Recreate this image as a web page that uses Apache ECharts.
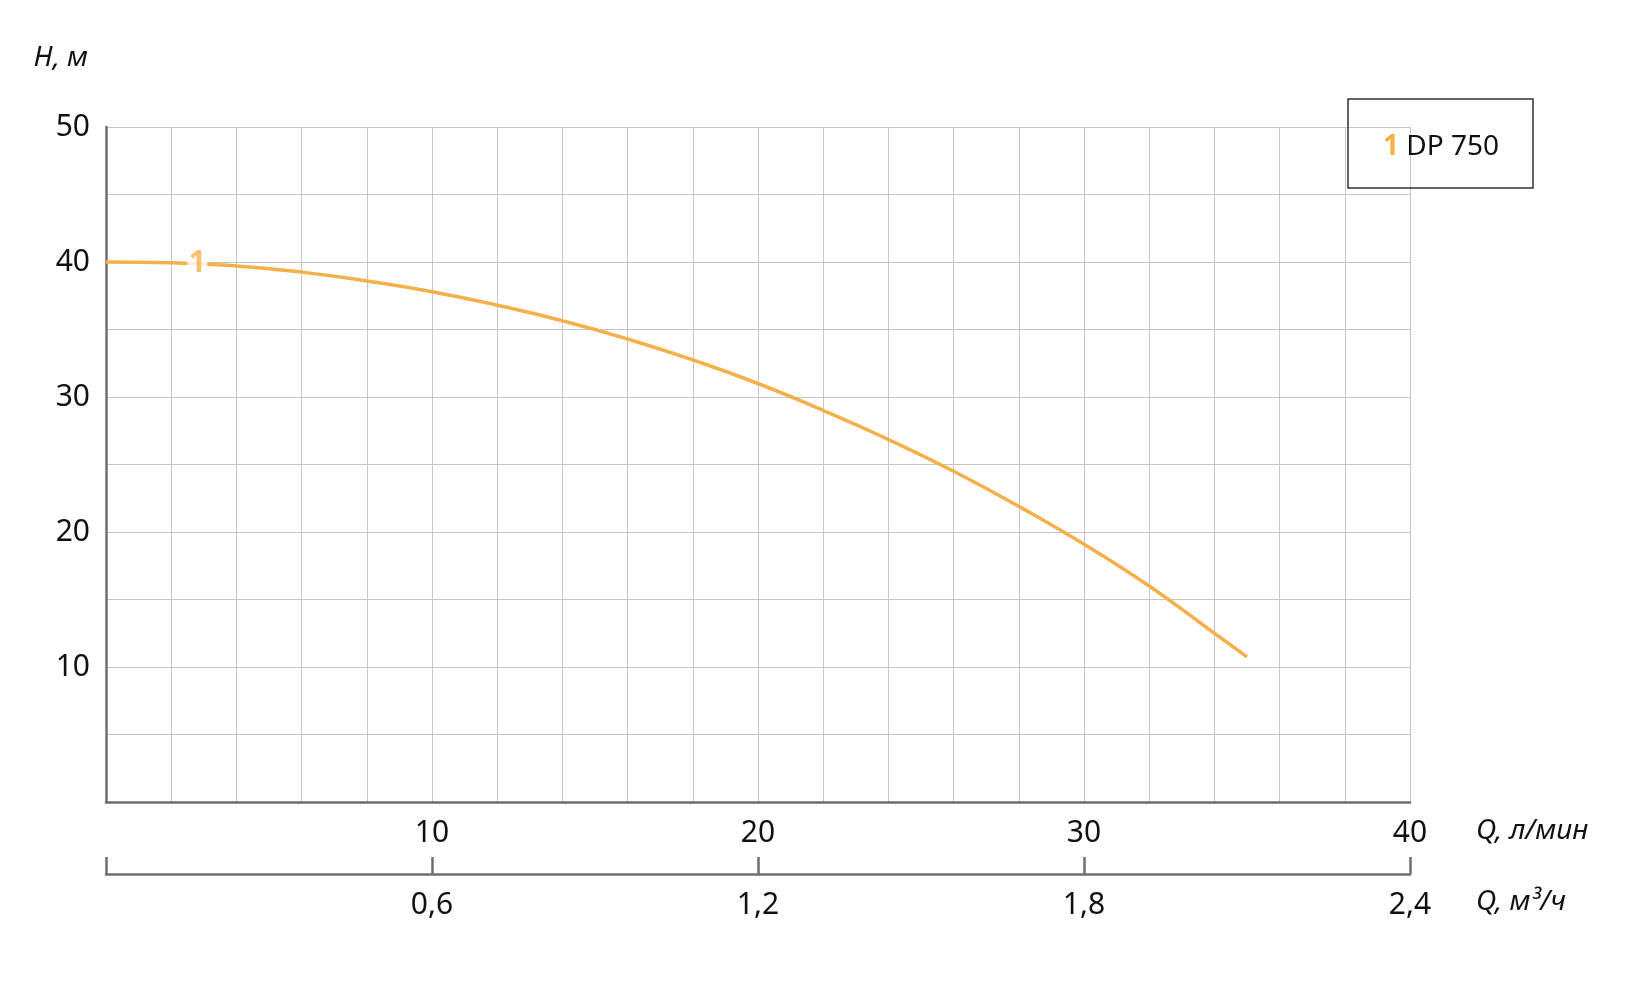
<!DOCTYPE html>
<html>
<head>
<meta charset="utf-8">
<script src="https://cdn.jsdelivr.net/npm/echarts@6/dist/echarts.min.js"></script>
<style>
html,body{margin:0;padding:0;background:#fff;}
#chart{width:1640px;height:998px;}
</style>
</head>
<body>
<div id="chart"></div>
<script>
// Flow (l/min) and head (m)
const flowLpm = [0, 2, 4, 6, 8, 10, 12, 14, 16, 18, 20, 22, 24, 26, 28, 30, 32, 34, 35];
const headM   = [40.0, 39.95, 39.7, 39.25, 38.6, 37.8, 36.8, 35.65, 34.3, 32.75, 31.0, 29.0, 26.85, 24.5, 21.9, 19.1, 16.0, 12.5, 10.75];
const seriesName = 'DP 750';
const curveNumber = '1';
const curveLabelPos = [2.8, 39.9];
const yTickLabels = [10, 20, 30, 40, 50];
const xTickLabels = [10, 20, 30, 40];
const x2TickLabels = [0.6, 1.2, 1.8, 2.4];
const yAxisTitle = 'H, м';
const xAxisTitle = 'Q, л/мин';
const x2AxisTitle = 'Q, м³/ч';

const FONT = 'Noto Sans';
const ORANGE = '#f4b04a';
const chart = echarts.init(document.getElementById('chart'), null, {renderer: 'canvas'});

const option = {
  backgroundColor: '#fff',
  animation: false,
  textStyle: {fontFamily: FONT},
  grid: {left: 106, right: 230, top: 127, bottom: 196, containLabel: false},
  legend: {
    data: [seriesName],
    left: 1348, top: 99,
    itemWidth: 0, itemHeight: 0, itemGap: 0,
    icon: 'none',
    borderColor: '#333', borderWidth: 1.5,
    padding: [34, 34, 27, 30],
    formatter: function (n) { return '{n|' + curveNumber + '} ' + n; },
    textStyle: {
      fontFamily: FONT, fontSize: 28, color: '#111',
      rich: {n: {fontFamily: FONT, fontSize: 28, color: ORANGE, fontWeight: 'bold'}}
    },
    selectedMode: false
  },
  xAxis: [
    {
      type: 'value', min: 0, max: 40, interval: 2,
      position: 'bottom',
      axisLine: {show: true, onZero: false, lineStyle: {color: '#6e6e6e', width: 2.5}},
      axisTick: {show: false},
      splitLine: {show: true, lineStyle: {color: '#c6c6c6', width: 1}},
      axisLabel: {
        margin: 16, fontSize: 30, color: '#111', fontFamily: FONT,
        formatter: function (v) { return xTickLabels.indexOf(v) >= 0 ? String(v) : ''; }
      }
    },
    {
      type: 'value', min: 0, max: 2.4, interval: 0.6,
      position: 'bottom', offset: 72,
      axisLine: {show: true, onZero: false, lineStyle: {color: '#6e6e6e', width: 2.5}},
      axisTick: {show: true, inside: true, length: 17, lineStyle: {color: '#6e6e6e', width: 2.5}},
      splitLine: {show: false},
      axisLabel: {
        margin: 16, fontSize: 30, color: '#111', fontFamily: FONT,
        formatter: function (v) {
          const r = Math.round(v * 10) / 10;
          return x2TickLabels.indexOf(r) >= 0 ? r.toFixed(1).replace('.', ',') : '';
        }
      }
    }
  ],
  yAxis: {
    type: 'value', min: 0, max: 50, interval: 5,
    axisLine: {show: true, onZero: false, lineStyle: {color: '#6e6e6e', width: 2.5}},
    axisTick: {show: false},
    splitLine: {show: true, lineStyle: {color: '#c6c6c6', width: 1}},
    axisLabel: {
      margin: 16, fontSize: 30, color: '#111', fontFamily: FONT,
      formatter: function (v) { return yTickLabels.indexOf(v) >= 0 ? String(v) : ''; }
    }
  },
  series: [
    {
      name: seriesName,
      type: 'line',
      xAxisIndex: 0,
      smooth: 0.5,
      showSymbol: false,
      lineStyle: {color: ORANGE, width: 3.5},
      itemStyle: {color: ORANGE},
      data: flowLpm.map((q, i) => [q, headM[i]]),
      z: 3
    },
    {
      name: 'label',
      type: 'scatter',
      xAxisIndex: 0,
      symbol: 'rect',
      symbolSize: [20, 26],
      itemStyle: {color: '#fff'},
      label: {
        show: true, position: 'inside', formatter: curveNumber,
        color: ORANGE, fontWeight: 'bold', fontSize: 30, fontFamily: FONT
      },
      data: [curveLabelPos],
      z: 4,
      silent: true
    }
  ],
  graphic: [
    {type: 'text', right: 1640 - 88, top: 44,
     style: {text: yAxisTitle, font: 'italic 28px "' + FONT + '"', fill: '#111', textAlign: 'right'}},
    {type: 'text', left: 1476, top: 817,
     style: {text: xAxisTitle, font: 'italic 28px "' + FONT + '"', fill: '#111'}},
    {type: 'text', left: 1476, top: 888,
     style: {text: x2AxisTitle, font: 'italic 28px "' + FONT + '"', fill: '#111'}}
  ]
};
chart.setOption(option);
</script>
</body>
</html>
